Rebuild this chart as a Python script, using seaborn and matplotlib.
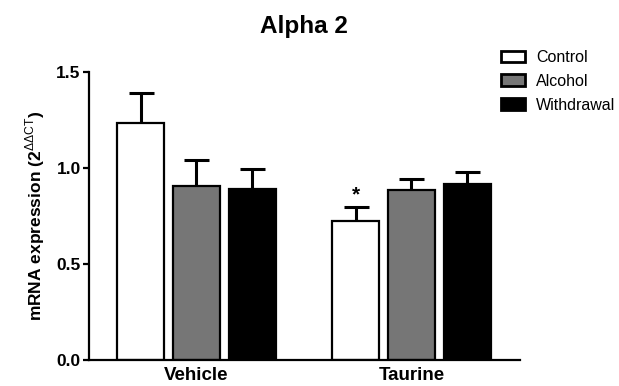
import matplotlib
matplotlib.use("Agg")
import matplotlib.pyplot as plt
from matplotlib.patches import Patch
import numpy as np
import pandas as pd
import seaborn as sns

# Expression data (mean and SEM), per treatment and group
treatments = ["Vehicle", "Taurine"]
groups = ["Control", "Alcohol", "Withdrawal"]
means = {
    "Control": [1.235, 0.722],
    "Alcohol": [0.908, 0.887],
    "Withdrawal": [0.893, 0.915],
}
sems = {
    "Control": [0.155, 0.076],
    "Alcohol": [0.134, 0.058],
    "Withdrawal": [0.100, 0.064],
}
colors = ["#ffffff", "#767676", "#000000"]
yticks = [0.0, 0.5, 1.0, 1.5]

sns.set_theme(style="ticks")
plt.rcParams["font.family"] = ["Liberation Sans", "DejaVu Sans"]
plt.rcParams["text.color"] = "black"
plt.rcParams["axes.labelcolor"] = "black"
plt.rcParams["xtick.color"] = "black"
plt.rcParams["ytick.color"] = "black"
plt.rcParams["mathtext.fontset"] = "custom"
plt.rcParams["mathtext.rm"] = "Liberation Sans"
plt.rcParams["mathtext.bf"] = "Liberation Sans:bold"

df = pd.DataFrame(
    [(t, g, means[g][i]) for g in groups for i, t in enumerate(treatments)],
    columns=["treatment", "group", "value"],
)

fig = plt.figure(figsize=(6.19, 3.86), dpi=100)
ax = fig.add_axes([89 / 619, 1 - 360 / 386, (520 - 89) / 619, (360 - 72) / 386])

sns.barplot(
    data=df, x="treatment", y="value", hue="group",
    order=treatments, hue_order=groups, palette=colors,
    errorbar=None, width=0.78, gap=0.15,
    edgecolor="black", linewidth=1.6, legend=False, ax=ax, zorder=2,
)

# SEM bars; the lower half sits behind the opaque bar
for g, cont in zip(groups, ax.containers):
    xs = [p.get_x() + p.get_width() / 2 for p in cont]
    m = np.array(means[g])
    e = np.array(sems[g])
    ax.errorbar(xs, m, yerr=e, fmt="none",
                ecolor="black", elinewidth=2.2, capsize=9, capthick=2.2,
                zorder=1)
    if g == "Control":
        ax.annotate("*", xy=(xs[1], m[1] + e[1]), xytext=(0, 2),
                    textcoords="offset points", ha="center", va="bottom",
                    fontsize=15, fontweight="bold")

ax.set_xlim(-0.5, 1.505)
ax.set_ylim(0, 1.5)
ax.set_yticks(yticks)
ax.set_yticklabels([f"{v:.1f}" for v in yticks], fontsize=12.5, fontweight="bold")
ax.set_xticks(range(len(treatments)))
ax.set_xticklabels(treatments, fontsize=13.5, fontweight="bold")
ax.tick_params(axis="x", length=0, pad=5)
ax.tick_params(axis="y", length=4, width=1.6, pad=2)
ax.set_xlabel("")
ax.set_ylabel(r"mRNA expression (2$^{\mathrm{\Delta\Delta CT}}$)",
              fontsize=12.5, fontweight="bold", labelpad=7)
for side in ("left", "bottom"):
    ax.spines[side].set_linewidth(1.6)
    ax.spines[side].set_color("black")
sns.despine(ax=ax)

fig.suptitle("Alpha 2", x=304 / 619, y=1 - 15 / 386, fontsize=17.5,
             fontweight="bold", va="top")

handles = [Patch(facecolor=c, edgecolor="black", linewidth=2.0) for c in colors]
fig.legend(handles, groups, loc="upper left",
           bbox_to_anchor=(501 / 619, 1 - 50 / 386), frameon=False,
           fontsize=11.5, handlelength=1.5, handleheight=0.75,
           handletextpad=0.7, labelspacing=0.55, borderpad=0, borderaxespad=0)

fig.savefig("out.png", dpi=100)
